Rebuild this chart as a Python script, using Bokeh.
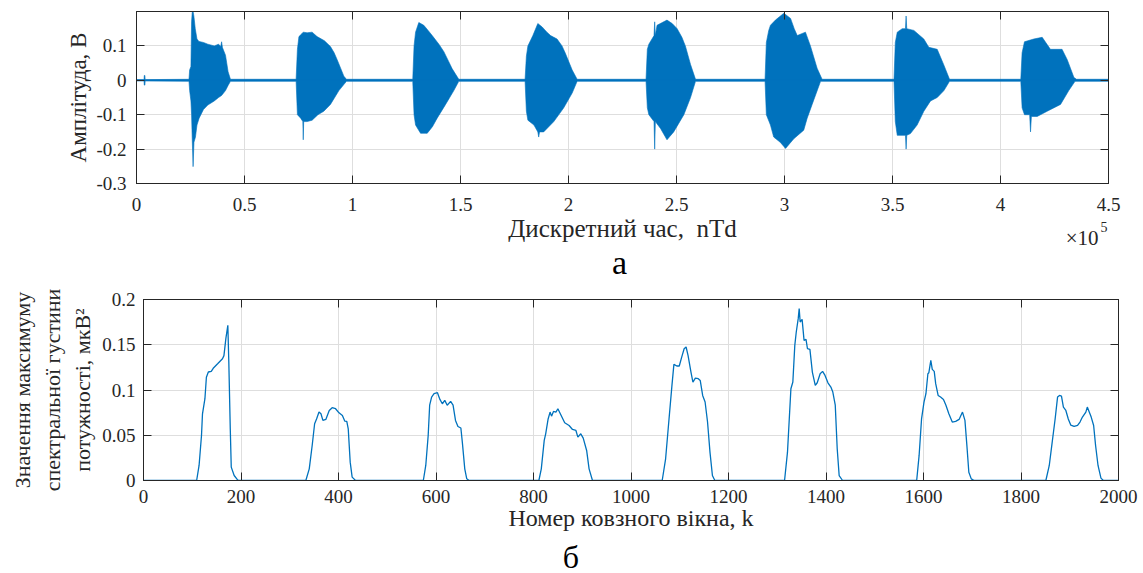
from bokeh.plotting import figure
from bokeh.layouts import column, row
from bokeh.models import FixedTicker, LinearAxis, Label, Range1d
from bokeh.embed import file_html
from bokeh.resources import INLINE

# ---------------- data: panel (а) — waveform envelope ----------------
# times in samples (nTd), amplitude in V
env_top_t = [0, 3500, 3600, 3900, 4000,
             24300, 24600, 25200, 25500, 25800, 26200, 26600, 27200, 28000, 28900, 31000, 33000, 36000, 38000, 39000, 39400, 39800, 41200, 42400, 43500,
             73900, 74500, 75200, 76500, 77200, 79000, 81300, 83600, 87000, 89800, 91500, 92900, 96000, 97200,
             127900, 128500, 129200, 130700, 133000, 135000, 136900, 140000, 142300, 144500, 146100, 149200,
             179900, 180500, 181200, 183500, 185800, 187800, 190000, 191700, 194700, 197000, 198500, 201700, 204000,
             235900, 236500, 237200, 239600, 239900, 240200, 241000, 245600, 248000, 250300, 252500, 254100, 256500, 258800,
             291000, 291600, 292700, 293500, 295800, 299700, 302800, 304500, 305900, 309700, 312000, 315100, 317400,
             350700, 351300, 352200, 354500, 356000, 356300, 356600, 359900, 364500, 366800, 370700, 373800, 376400,
             409400, 410000, 411100, 415400, 419300, 423100, 428500, 430900, 434000, 435200,
             450000]
env_top_v = [0.002, 0.002, 0.014, 0.014, 0.002,
             0.003, 0.03, 0.04, 0.17, 0.198, 0.2, 0.185, 0.15, 0.12, 0.113, 0.11, 0.105, 0.1, 0.105, 0.098, 0.112, 0.095, 0.073, 0.025, 0.003,
             0.003, 0.09, 0.127, 0.135, 0.14, 0.138, 0.14, 0.127, 0.115, 0.098, 0.08, 0.06, 0.012, 0.003,
             0.003, 0.1, 0.14, 0.168, 0.16, 0.145, 0.13, 0.105, 0.083, 0.055, 0.034, 0.003,
             0.003, 0.07, 0.1, 0.13, 0.165, 0.155, 0.14, 0.13, 0.12, 0.1, 0.079, 0.03, 0.003,
             0.003, 0.09, 0.105, 0.13, 0.17, 0.13, 0.16, 0.175, 0.165, 0.15, 0.125, 0.1, 0.046, 0.003,
             0.003, 0.11, 0.145, 0.16, 0.175, 0.195, 0.18, 0.15, 0.13, 0.14, 0.1, 0.035, 0.003,
             0.003, 0.11, 0.14, 0.15, 0.15, 0.187, 0.15, 0.145, 0.12, 0.096, 0.09, 0.044, 0.003,
             0.003, 0.08, 0.112, 0.12, 0.125, 0.09, 0.09, 0.06, 0.008, 0.003,
             0.003]
env_bot_t = [0, 3500, 3600, 3900, 4000,
             24300, 24600, 25200, 25500, 25800, 26200, 26600, 27300, 28000, 29000, 31000, 33000, 36000, 38000, 39400, 41200, 42400, 43500,
             73900, 74500, 76000, 77000, 77200, 77400, 79000, 81300, 84000, 86700, 89800, 93700, 97200,
             127900, 128500, 129200, 131500, 134600, 137000, 139200, 143100, 146900, 149200,
             179900, 180500, 181200, 184000, 185800, 186200, 186600, 188500, 193200, 197800, 201700, 204000,
             235900, 236500, 237200, 239600, 239900, 240200, 242600, 245600, 248700, 253400, 256500, 258800,
             291000, 291600, 293500, 295000, 298000, 300500, 304300, 308900, 310500, 312800, 316700,
             350700, 351300, 352200, 356000, 356300, 356600, 358300, 361400, 364500, 367600, 370700, 373800, 376400,
             409400, 410000, 411100, 413500, 413900, 414300, 417000, 421600, 427800, 431600, 434500,
             450000]
env_bot_v = [-0.002, -0.002, -0.014, -0.014, -0.002,
             -0.003, -0.03, -0.06, -0.1, -0.17, -0.251, -0.18, -0.165, -0.13, -0.11, -0.085, -0.072, -0.06, -0.05, -0.044, -0.03, -0.015, -0.003,
             -0.003, -0.1, -0.11, -0.12, -0.173, -0.12, -0.12, -0.116, -0.1, -0.09, -0.07, -0.03, -0.003,
             -0.003, -0.1, -0.13, -0.154, -0.154, -0.135, -0.11, -0.07, -0.03, -0.003,
             -0.003, -0.09, -0.116, -0.13, -0.15, -0.165, -0.15, -0.15, -0.12, -0.08, -0.037, -0.003,
             -0.003, -0.08, -0.1, -0.12, -0.2, -0.12, -0.14, -0.173, -0.15, -0.1, -0.05, -0.003,
             -0.003, -0.1, -0.13, -0.165, -0.18, -0.198, -0.17, -0.145, -0.11, -0.07, -0.003,
             -0.003, -0.12, -0.16, -0.16, -0.2, -0.16, -0.155, -0.13, -0.09, -0.06, -0.05, -0.03, -0.003,
             -0.003, -0.08, -0.1, -0.1, -0.15, -0.105, -0.105, -0.09, -0.07, -0.03, -0.003,
             -0.003]
x1_ticks = [0, 50000, 100000, 150000, 200000, 250000, 300000, 350000, 400000, 450000]
x1_labels = ["0", "0.5", "1", "1.5", "2", "2.5", "3", "3.5", "4", "4.5"]
y1_ticks = [-0.3, -0.2, -0.1, 0, 0.1]
y1_labels = ["-0.3", "-0.2", "-0.1", "0", "0.1"]

# ---------------- data: panel (б) — max PSD per sliding window ----------------
win_k = [0, 109, 114, 119, 121, 126, 129, 133, 139, 143, 152, 162, 165, 169, 173, 175, 178, 180, 186, 193, 196,
         333, 340, 346, 351, 355, 360, 364, 368, 374, 381, 387, 394, 401, 408, 413, 417, 420, 424, 428, 435,
         574, 579, 584, 587, 591, 596, 603, 608, 613, 618, 623, 630, 635, 640, 645, 651, 654, 659, 663, 668,
         811, 816, 822, 825, 830, 834, 837, 841, 846, 850, 856, 864, 873, 880, 887, 891, 897, 902, 909, 914, 921,
         1064, 1071, 1078, 1084, 1088, 1094, 1099, 1104, 1109, 1113, 1117, 1123, 1127, 1132, 1138, 1142, 1147, 1152, 1157, 1162, 1167, 1172,
         1315, 1321, 1328, 1332, 1336, 1339, 1343, 1345, 1347, 1351, 1355, 1359, 1362, 1367, 1372, 1378, 1382, 1388, 1393, 1398, 1404, 1410, 1414, 1419, 1423, 1427, 1434,
         1586, 1591, 1596, 1601, 1605, 1609, 1611, 1615, 1618, 1622, 1625, 1630, 1635, 1641, 1646, 1652, 1659, 1666, 1673, 1680, 1685, 1689, 1693, 1698, 1704,
         1851, 1858, 1864, 1870, 1875, 1879, 1883, 1887, 1892, 1897, 1902, 1909, 1916, 1921, 1926, 1933, 1936, 1940, 1944, 1949, 1953, 1958, 1964, 1969, 2000]
max_psd = [0, 0, 0.0166, 0.05, 0.0737, 0.0904, 0.114, 0.1199, 0.1206, 0.124, 0.129, 0.1346, 0.138, 0.157, 0.1715, 0.131, 0.057, 0.0148, 0.0055, 0.0007, 0,
           0, 0.0129, 0.0387, 0.0627, 0.068, 0.0756, 0.0737, 0.0664, 0.0675, 0.0774, 0.0804, 0.0793, 0.0748, 0.0719, 0.0656, 0.0653, 0.057, 0.0203, 0.0037, 0,
           0, 0.0166, 0.05, 0.0832, 0.0922, 0.0959, 0.097, 0.0896, 0.0848, 0.0885, 0.0832, 0.0874, 0.0832, 0.0664, 0.0597, 0.058, 0.0424, 0.0129, 0.002, 0,
           0, 0.0129, 0.0443, 0.0516, 0.068, 0.0756, 0.0711, 0.0763, 0.0756, 0.0793, 0.0726, 0.0638, 0.0608, 0.0564, 0.0553, 0.048, 0.0516, 0.0469, 0.0332, 0.0129, 0,
           0, 0.024, 0.068, 0.1051, 0.1283, 0.1265, 0.1265, 0.1364, 0.1456, 0.1475, 0.1383, 0.1198, 0.1088, 0.1132, 0.1125, 0.1106, 0.094, 0.0867, 0.0646, 0.0313, 0.0055, 0,
           0, 0.0313, 0.1014, 0.1088, 0.1493, 0.1641, 0.1788, 0.1899, 0.1751, 0.1781, 0.1548, 0.1559, 0.1456, 0.1449, 0.1198, 0.1051, 0.108, 0.118, 0.1206, 0.1161, 0.108, 0.1033, 0.0977, 0.0832, 0.035, 0.0055, 0,
           0, 0.0277, 0.068, 0.0867, 0.0959, 0.118, 0.1191, 0.1327, 0.1228, 0.1206, 0.107, 0.094, 0.0922, 0.0896, 0.0832, 0.0737, 0.0646, 0.0653, 0.0675, 0.0756, 0.0664, 0.0387, 0.0092, 0.0018, 0,
           0, 0.0166, 0.0424, 0.068, 0.0922, 0.094, 0.0933, 0.0811, 0.0774, 0.068, 0.0612, 0.0597, 0.0608, 0.0646, 0.0701, 0.0756, 0.0811, 0.0756, 0.0701, 0.0608, 0.0387, 0.0166, 0.0026, 0, 0]
x2_ticks = [0, 200, 400, 600, 800, 1000, 1200, 1400, 1600, 1800, 2000]
y2_ticks = [0, 0.05, 0.1, 0.15, 0.2]
y2_labels = ["0", "0.05", "0.1", "0.15", "0.2"]

# ---------------- style ----------------
SERIF = "Liberation Serif"
TXT = "#262626"
BLUE = "#0072BD"
GRID = "#dedede"
TICK_FS = "19px"


def style_axis(ax, ticks, labels=None, show_labels=True, standoff=10, label_size="22px"):
    ax.ticker = FixedTicker(ticks=ticks)
    if labels is not None:
        ax.major_label_overrides = {t: l for t, l in zip(ticks, labels)}
    ax.major_tick_in = 8
    ax.major_tick_out = 0
    ax.minor_tick_in = 0
    ax.minor_tick_out = 0
    ax.axis_line_color = TXT
    ax.major_tick_line_color = TXT
    ax.major_label_text_font = SERIF
    ax.axis_label_text_font = SERIF
    ax.axis_label_text_font_style = "normal"
    ax.axis_label_text_color = TXT
    ax.axis_label_text_font_size = label_size
    if show_labels:
        ax.major_label_text_color = TXT
        ax.major_label_text_font_size = TICK_FS
        ax.major_label_standoff = standoff
    else:
        ax.major_label_text_color = None
        ax.major_label_text_font_size = "1px"
        ax.major_label_standoff = 0


def make_fig(xr, yr, fw, fh, bl, br, bt, bb):
    p = figure(frame_width=fw, frame_height=fh, x_range=xr, y_range=yr,
               output_backend="svg", toolbar_location=None,
               min_border_left=bl, min_border_right=br,
               min_border_top=bt, min_border_bottom=bb)
    p.outline_line_color = TXT
    p.background_fill_color = "white"
    p.border_fill_color = "white"
    p.xgrid.grid_line_color = GRID
    p.ygrid.grid_line_color = GRID
    return p


def side_label(p, side, x, y, text, dx, dy, size, align="center", color=TXT):
    # placed in a side panel so the text is not clipped to the plot frame;
    # its position still comes from the plot's data scales plus pixel offsets
    p.add_layout(Label(x=x, y=y, text=text, x_offset=dx, y_offset=dy,
                       text_align=align, text_baseline="alphabetic",
                       text_font=SERIF, text_font_size=size, text_color=color), side)


# ---------------- panel (а) ----------------
p1 = make_fig(Range1d(0, 450000), Range1d(-0.3, 0.2), 972, 172, 136, 35, 11, 102)
poly_x = env_top_t + env_bot_t[::-1]
poly_y = env_top_v + env_bot_v[::-1]
p1.patch(poly_x, poly_y, fill_color=BLUE, line_color=BLUE, line_width=0.6)
p1.line(env_top_t, [0.0] * len(env_top_t), line_color=BLUE, line_width=1.1)

style_axis(p1.xaxis[0], x1_ticks, x1_labels, standoff=14, label_size="25px")
style_axis(p1.yaxis[0], y1_ticks, y1_labels, standoff=10, label_size="23px")
p1.xaxis[0].axis_label = "Дискретний час,\u00a0 nTd"
p1.xaxis[0].axis_label_standoff = 1
p1.yaxis[0].axis_label = "Амплітуда, В"
p1.yaxis[0].axis_label_standoff = 2
p1.xgrid.ticker = FixedTicker(ticks=x1_ticks)
p1.ygrid.ticker = FixedTicker(ticks=y1_ticks)
ax_t = LinearAxis()
style_axis(ax_t, x1_ticks, show_labels=False)
ax_r = LinearAxis()
style_axis(ax_r, y1_ticks, show_labels=False)
p1.add_layout(ax_t, "above")
p1.add_layout(ax_r, "right")

side_label(p1, "left", 450000, -0.3, "×10", -10, -54, "21px", align="right")
side_label(p1, "left", 450000, -0.3, "5", -8, -43, "14px", align="left")
side_label(p1, "left", 225000, -0.3, "а", -3, -79, "34px", color="black")

# ---------------- panel (б) ----------------
p2 = make_fig(Range1d(0, 2000), Range1d(0, 0.2), 975, 181, 143, 25, 14, 93)
p2.line(win_k, max_psd, line_color=BLUE, line_width=1.3)
style_axis(p2.xaxis[0], x2_ticks, standoff=9, label_size="24px")
style_axis(p2.yaxis[0], y2_ticks, y2_labels, standoff=8, label_size="22px")
p2.xaxis[0].axis_label = "Номер ковзного вікна, k"
p2.xaxis[0].axis_label_standoff = -1
p2.yaxis[0].axis_label = "Значення максимуму\nспектральної густини\nпотужності, мкВ²"
p2.yaxis[0].axis_label_standoff = 4
p2.yaxis[0].axis_label_text_line_height = 1.2
p2.xgrid.ticker = FixedTicker(ticks=x2_ticks)
p2.ygrid.ticker = FixedTicker(ticks=y2_ticks)
bx_t = LinearAxis()
style_axis(bx_t, x2_ticks, show_labels=False)
bx_r = LinearAxis()
style_axis(bx_r, y2_ticks, show_labels=False)
p2.add_layout(bx_t, "above")
p2.add_layout(bx_r, "right")
side_label(p2, "right", 1000, 0, "б", -60, -76, "32px", color="black")

layout = column(row(p1), row(p2), spacing=0)
open("out.html", "w").write(file_html(layout, INLINE))
